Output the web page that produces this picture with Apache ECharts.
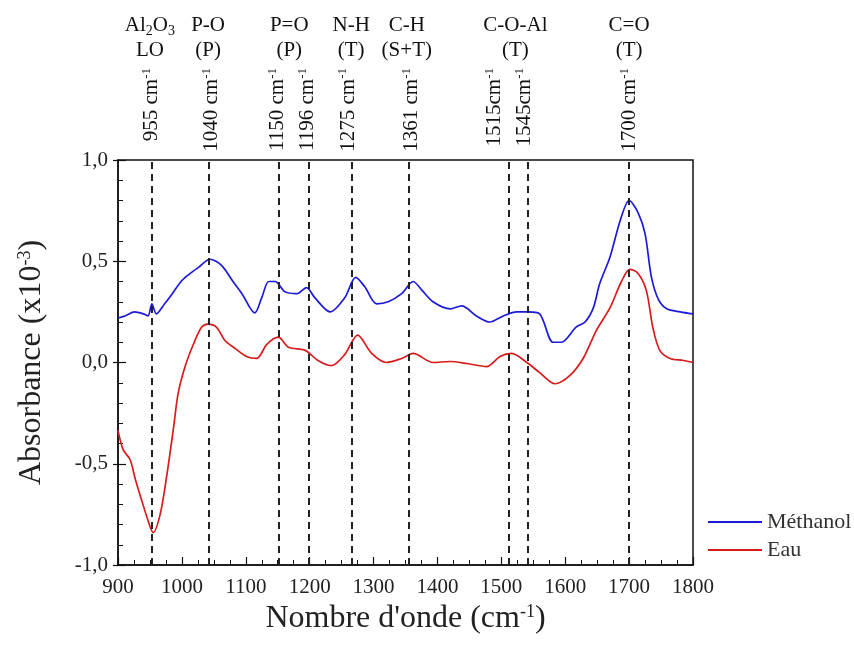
<!DOCTYPE html>
<html>
<head>
<meta charset="utf-8">
<script src="https://cdn.jsdelivr.net/npm/echarts@6/dist/echarts.min.js"></script>
<style>
html,body{margin:0;padding:0;background:#fff;}
#chart{width:854px;height:652px;}
</style>
</head>
<body>
<div id="chart"></div>
<script>
// ---- Data ----
var methanolWn  = [900,911,926,940,947,953,960,973,985,1000,1013,1026,1044,1062,1080,1094,1114,1125,1136,1146,1161,1180,1195,1208,1232,1255,1272,1286,1305,1323,1344,1362,1375,1393,1420,1438,1461,1482,1503,1524,1542,1560,1581,1594,1617,1631,1644,1654,1670,1686,1700,1714,1725,1735,1746,1759,1780,1800];
var methanolAbs = [0.22,0.23,0.25,0.24,0.23,0.29,0.24,0.29,0.34,0.405,0.44,0.47,0.51,0.48,0.40,0.34,0.245,0.32,0.40,0.40,0.35,0.34,0.37,0.32,0.25,0.32,0.42,0.375,0.29,0.30,0.34,0.40,0.36,0.30,0.265,0.28,0.23,0.20,0.23,0.25,0.25,0.24,0.10,0.10,0.175,0.20,0.27,0.39,0.52,0.70,0.80,0.74,0.635,0.42,0.31,0.265,0.25,0.24];

var eauWn  = [900,908,919,927,937,947,955,966,976,987,994,1005,1018,1031,1041,1054,1067,1083,1101,1117,1133,1151,1167,1193,1213,1234,1255,1275,1297,1320,1344,1362,1393,1420,1446,1477,1498,1516,1540,1560,1584,1607,1628,1649,1670,1688,1701,1714,1727,1737,1748,1764,1785,1800];
var eauAbs = [-0.335,-0.43,-0.48,-0.575,-0.68,-0.78,-0.84,-0.75,-0.565,-0.32,-0.155,-0.02,0.09,0.175,0.19,0.175,0.11,0.07,0.03,0.02,0.09,0.125,0.075,0.06,0.01,-0.015,0.04,0.135,0.045,0.0,0.02,0.045,0.0,0.005,-0.005,-0.02,0.03,0.045,0.0,-0.05,-0.105,-0.065,0.02,0.16,0.27,0.40,0.46,0.44,0.355,0.175,0.06,0.02,0.01,0.0];

// dashed reference lines (positions as drawn)
var bandLines  = [953,1042,1151,1199,1266,1355,1512,1542,1699];
// rotated band labels and where their centres sit (wavenumber)
var bandLabels = ['955 cm{sup|-1}','1040 cm{sup|-1}','1150 cm{sup|-1}','1196 cm{sup|-1}','1275 cm{sup|-1}','1361 cm{sup|-1}','1515cm{sup|-1}','1545cm{sup|-1}','1700 cm{sup|-1}'];
var bandLabelPos = [953,1047,1149,1196,1260,1360,1490,1537,1701];

// assignment group labels and their centres (wavenumber)
var groupPos    = [950,1041,1168,1265,1352,1522,1700];
var groupLabels = ['Al{sub|2}O{sub|3}\nLO','P-O\n(P)','P=O\n(P)','N-H\n(T)','C-H\n(S+T)','C-O-Al\n(T)','C=O\n(T)'];

var xTicks = {min:900, max:1800, interval:100};
var yTicks = {min:-1, max:1, interval:0.5};

var seriesNames = ['Méthanol','Eau'];
// ---------------------------------------

function pairs(xs, ys){ return xs.map(function(x,i){ return [x, ys[i]]; }); }

var FONT = '"Liberation Serif","Times New Roman",serif';
var chart = echarts.init(document.getElementById('chart'), null, {renderer:'canvas'});

var option = {
  animation:false,
  backgroundColor:'#fff',
  grid:{left:118,right:161,top:160,bottom:87,show:true,borderColor:'#111',borderWidth:1.5,backgroundColor:'transparent'},
  legend:{
    orient:'vertical', left:703, top:506, itemWidth:54, itemHeight:2, itemGap:6,
    icon:'rect',
    data:seriesNames,
    textStyle:{fontFamily:FONT,fontSize:22,color:'#333'}
  },
  xAxis:{
    type:'value', min:xTicks.min, max:xTicks.max, interval:xTicks.interval,
    name:"Nombre d'onde (cm{sup|-1})", nameLocation:'middle', nameGap:38,
    nameTextStyle:{fontFamily:FONT,fontSize:32,color:'#222',rich:{sup:{fontSize:18,verticalAlign:'top',fontFamily:FONT,color:'#222'}}},
    axisLine:{onZero:false,lineStyle:{color:'#111',width:1.5}},
    axisTick:{inside:true,length:8,lineStyle:{color:'#111',width:1.2}},
    minorTick:{show:true,splitNumber:4,length:5,lineStyle:{color:'#111',width:1}},
    splitLine:{show:false},
    axisLabel:{fontFamily:FONT,fontSize:21,color:'#222',margin:12,
      formatter:function(v){ return String(v); }}
  },
  yAxis:[{
    type:'value', min:yTicks.min, max:yTicks.max, interval:yTicks.interval,
    name:'Absorbance (x10{sup|-3})', nameLocation:'middle', nameGap:70,
    nameTextStyle:{fontFamily:FONT,fontSize:32,color:'#222',rich:{sup:{fontSize:18,verticalAlign:'top',fontFamily:FONT,color:'#222'}}},
    axisLine:{onZero:false,lineStyle:{color:'#111',width:1.5}},
    axisTick:{inside:true,length:8,lineStyle:{color:'#111',width:1.2}},
    minorTick:{show:true,splitNumber:5,length:5,lineStyle:{color:'#111',width:1}},
    splitLine:{show:false},
    axisLabel:{fontFamily:FONT,fontSize:21,color:'#222',margin:10,
      formatter:function(v){ return v.toFixed(1).replace('.',','); }}
  },{
    type:'value', min:yTicks.min, max:yTicks.max, interval:yTicks.interval, position:'left',
    axisLine:{show:false,onZero:false}, axisLabel:{show:false}, splitLine:{show:false},
    axisTick:{inside:false,length:5,lineStyle:{color:'#111',width:1.2}}
  }],
  series:[{
    name:seriesNames[0], type:'line', showSymbol:false, symbol:'none', smooth:0.3,
    data:pairs(methanolWn, methanolAbs),
    lineStyle:{color:'#1a1ad8',width:1.7}, itemStyle:{color:'#1a1ad8'},
    markLine:{
      silent:true, symbol:['none','none'], label:{show:false},
      lineStyle:{color:'#222',type:[7,5],width:2},
      data:bandLines.map(function(v){ return {xAxis:v}; })
    }
  },{
    name:seriesNames[1], type:'line', showSymbol:false, symbol:'none', smooth:0.3,
    data:pairs(eauWn, eauAbs),
    lineStyle:{color:'#d81c1c',width:1.7}, itemStyle:{color:'#d81c1c'}
  }]
};
chart.setOption(option);

// annotations positioned through the x scale
var gridTop = chart.convertToPixel({yAxisIndex:0}, yTicks.max);
var graphics = [];
var richSup = {sup:{fontSize:13,verticalAlign:'top',fontFamily:FONT,fill:'#111',lineHeight:23}};
bandLabelPos.forEach(function(v,i){
  var px = chart.convertToPixel({xAxisIndex:0}, v);
  graphics.push({
    type:'text', x:px, y:gridTop-92, rotation:Math.PI/2, silent:true,
    style:{text:bandLabels[i], fontFamily:FONT, fontSize:21, fill:'#111',
      align:'right', verticalAlign:'middle', lineHeight:23, rich:richSup}
  });
});
groupPos.forEach(function(v,i){
  var px = chart.convertToPixel({xAxisIndex:0}, v);
  graphics.push({
    type:'text', x:px, y:gridTop-122, silent:true,
    style:{text:groupLabels[i], fontFamily:FONT, fontSize:21, fill:'#111',
      align:'center', verticalAlign:'middle', lineHeight:25,
      rich:{sub:{fontSize:14,verticalAlign:'bottom',fontFamily:FONT,fill:'#111',lineHeight:25}}}
  });
});
chart.setOption({graphic:graphics});
</script>
</body>
</html>
